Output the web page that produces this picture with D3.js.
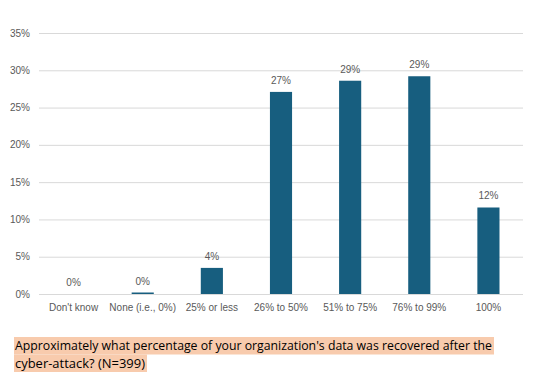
<!DOCTYPE html>
<html>
<head>
<meta charset="utf-8">
<script src="https://cdn.jsdelivr.net/npm/d3@7"></script>
<style>
  body { margin: 0; background: #fff; }
  .grid line { stroke: #d9d9d9; stroke-width: 1; }
  .grid path { display: none; }
</style>
</head>
<body>
<div class="bar-chart"></div>
<script>
var categories = ["Don't know", 'None (i.e., 0%)', '25% or less', '26% to 50%', '51% to 75%', '76% to 99%', '100%'];
var values = [0, 0.2, 3.5, 27.1, 28.6, 29.2, 11.6];
var valueLabels = ['0%', '0%', '4%', '27%', '29%', '29%', '12%'];
var yTicks = [0, 5, 10, 15, 20, 25, 30, 35];
var captionLines = ["Approximately what percentage of your organization's data was recovered after the", 'cyber-attack? (N=399)'];

var barColor = '#175e7f',
	textColor = '#595959',
	gridColor = '#d9d9d9',
	captionBg = '#f8cbad';
var margin = {top: 33, left: 39, bottom: 88, right: 14};
var totalWidth = 537, totalHeight = 382;
var width = totalWidth - margin.left - margin.right;
var height = totalHeight - margin.top - margin.bottom;

var x = d3.scaleBand().domain(categories).range([0, width]).paddingInner(0.68).paddingOuter(0.34);
var y = d3.scaleLinear().domain([0, 35]).range([height, 0]);

var root = d3.select('.bar-chart').append('svg')
	.attr('width', totalWidth)
	.attr('height', totalHeight)
	.attr('font-family', 'Liberation Sans, Arial, sans-serif');
var svg = root.append('g')
	.attr('transform', 'translate(' + margin.left + ',' + margin.top + ')');

// gridlines
svg.append('g')
	.attr('class', 'grid')
	.call(d3.axisLeft(y).tickValues(yTicks).tickSize(-width).tickFormat(''))
	.selectAll('line').attr('stroke', gridColor);

// y tick labels
svg.selectAll('.ylab')
	.data(yTicks)
	.enter().append('text')
	.attr('x', -9)
	.attr('y', function(d) { return y(d); })
	.attr('dy', '0.35em')
	.attr('text-anchor', 'end')
	.attr('font-size', '10px')
	.attr('fill', textColor)
	.text(function(d) { return d + '%'; });

// bars
svg.selectAll('.bar')
	.data(values)
	.enter().append('rect')
	.attr('x', function(d, i) { return x(categories[i]); })
	.attr('y', function(d) { return y(d); })
	.attr('width', x.bandwidth())
	.attr('height', function(d) { return height - y(d); })
	.attr('fill', barColor);

// data labels
svg.selectAll('.vlab')
	.data(values)
	.enter().append('text')
	.attr('x', function(d, i) { return x(categories[i]) + x.bandwidth() / 2; })
	.attr('y', function(d) { return y(d) - 8; })
	.attr('text-anchor', 'middle')
	.attr('font-size', '10px')
	.attr('fill', textColor)
	.text(function(d, i) { return valueLabels[i]; });

// category labels
svg.selectAll('.xlab')
	.data(categories)
	.enter().append('text')
	.attr('x', function(d) { return x(d) + x.bandwidth() / 2; })
	.attr('y', height + 17)
	.attr('text-anchor', 'middle')
	.attr('font-size', '10px')
	.attr('fill', textColor)
	.text(function(d) { return d; });

// caption, highlighted like in the source document
var captionWidths = [494, 147];
captionLines.forEach(function(line, i) {
	var top = 337 + i * 17.5;
	root.append('rect')
		.attr('x', 14)
		.attr('y', top)
		.attr('width', captionWidths[i] - 14)
		.attr('height', 17.5)
		.attr('fill', captionBg);
	root.append('text')
		.attr('x', 15)
		.attr('y', top + 13)
		.attr('font-family', 'Open Sans, sans-serif')
		.attr('font-size', '13px')
		.attr('fill', '#000')
		.attr('textLength', captionWidths[i] - 17)
		.attr('lengthAdjust', 'spacingAndGlyphs')
		.text(line);
});
</script>
</body>
</html>
